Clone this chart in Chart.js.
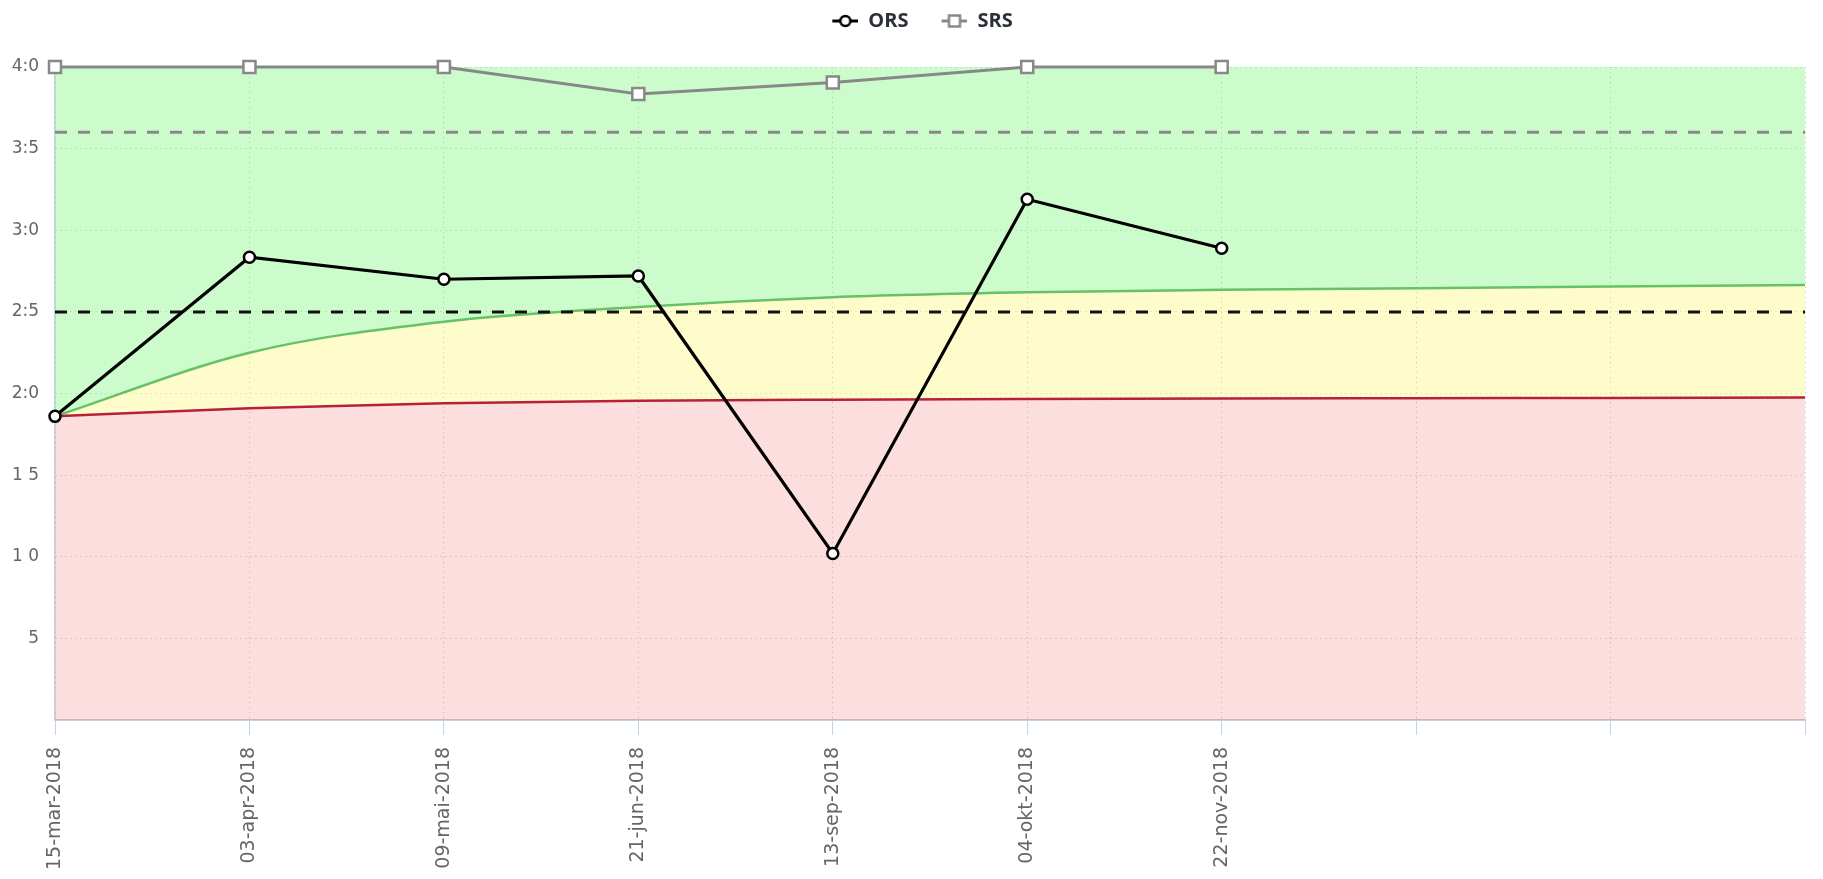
<!DOCTYPE html>
<html><head><meta charset="utf-8">
<script src="https://cdn.jsdelivr.net/npm/chart.js@4.4.0/dist/chart.umd.min.js"></script>
<style>html,body{margin:0;padding:0;background:#fff;overflow:hidden}</style>
</head><body>
<canvas id="c" width="1823" height="879"></canvas>
<script>
const categories = ["15-mar-2018","03-apr-2018","09-mai-2018","21-jun-2018","13-sep-2018","04-okt-2018","22-nov-2018","","",""];
const orsValues = [18.6, 28.35, 27.0, 27.2, 10.2, 31.9, 28.9, null, null, null];
const srsValues = [40, 40, 40, 38.35, 39.05, 40, 40, null, null, null];
const greenBoundary = [18.6, 22.5, 24.4, 25.3, 25.9, 26.2, 26.35, 26.45, 26.55, 26.65];
const redBoundary = [18.6, 19.1, 19.4, 19.55, 19.62, 19.66, 19.69, 19.71, 19.73, 19.75];
const topBoundary = [40, 40, 40, 40, 40, 40, 40, 40, 40, 40];
const orsCutoff = [25, 25, 25, 25, 25, 25, 25, 25, 25, 25];
const srsCutoff = [36, 36, 36, 36, 36, 36, 36, 36, 36, 36];
const yTickLabels = ["", "5", "1 0", "1 5", "2:0", "2:5", "3:0", "3:5", "4:0"];

function legendIcon(kind) {
  const c = document.createElement('canvas');
  c.width = 48; c.height = 16;
  const g = c.getContext('2d');
  const x0 = 22, x1 = 48, cy = 8;
  g.lineWidth = 3;
  g.strokeStyle = kind === 'ors' ? '#000' : '#888';
  g.beginPath(); g.moveTo(x0, cy); g.lineTo(x1, cy); g.stroke();
  g.fillStyle = '#fff';
  g.lineWidth = 2.5;
  const cx = (x0 + x1) / 2;
  if (kind === 'ors') {
    g.beginPath(); g.arc(cx, cy, 5, 0, Math.PI * 2); g.fill(); g.stroke();
  } else {
    g.beginPath(); g.rect(cx - 5.5, cy - 5.5, 11, 11); g.fill(); g.stroke();
  }
  return c;
}
const orsIcon = legendIcon('ors');
const srsIcon = legendIcon('srs');

const legendSpacer = {
  id: 'legendSpacer',
  beforeInit(chart) {
    const origFit = chart.legend.fit;
    chart.legend.fit = function () {
      origFit.call(this);
      this.height += 26;
    };
  }
};

Chart.defaults.font.family = "'DejaVu Sans', Verdana, sans-serif";
Chart.defaults.color = '#666';

new Chart(document.getElementById('c'), {
  type: 'line',
  plugins: [legendSpacer],
  data: {
    labels: categories,
    datasets: [
      { label: 'ORS', data: orsValues, borderColor: '#000', borderWidth: 3.2, tension: 0, clip: false,
        pointRadius: 5.5, pointBorderWidth: 2.5, pointBackgroundColor: '#fff', pointBorderColor: '#000',
        pointStyle: 'circle', fill: false, legendIcon: orsIcon },
      { label: 'SRS', data: srsValues, borderColor: '#888', borderWidth: 3, tension: 0, clip: false,
        pointRadius: 8.5, pointBorderWidth: 2.5, pointBackgroundColor: '#fff', pointBorderColor: '#888',
        pointStyle: 'rect', fill: false, legendIcon: srsIcon },
      { label: 'ORS cutoff', data: orsCutoff, borderColor: '#111', borderWidth: 3, borderDash: [12, 11],
        pointRadius: 0, fill: false },
      { label: 'SRS cutoff', data: srsCutoff, borderColor: '#888', borderWidth: 3, borderDash: [12, 11],
        pointRadius: 0, fill: false },
      { label: 'red', data: redBoundary, borderColor: '#b8203a', borderWidth: 2.5, pointRadius: 0,
        cubicInterpolationMode: 'monotone', fill: 'origin', backgroundColor: 'rgba(240,0,10,0.13)' },
      { label: 'green', data: greenBoundary, borderColor: '#66c266', borderWidth: 2.5, pointRadius: 0,
        cubicInterpolationMode: 'monotone', fill: '-1', backgroundColor: 'rgba(255,240,0,0.2)' },
      { label: 'top', data: topBoundary, borderWidth: 0, borderColor: 'rgba(0,0,0,0)', pointRadius: 0,
        fill: '-1', backgroundColor: 'rgba(0,240,0,0.2)' }
    ]
  },
  options: {
    responsive: false,
    animation: false,
    devicePixelRatio: 1,
    layout: { padding: { top: 0, right: 0, bottom: 0, left: 0 } },
    plugins: {
      tooltip: { enabled: false },
      legend: {
        position: 'top',
        labels: {
          usePointStyle: true,
          pointStyleWidth: 48,
          padding: 11,
          color: '#2b303a',
          font: { family: "'Open Sans', 'DejaVu Sans', sans-serif", size: 20, weight: 'bold' },
          filter: (item) => item.datasetIndex < 2,
          generateLabels: (chart) => chart.data.datasets.slice(0, 2).map((ds, i) => ({
            text: ds.label, datasetIndex: i, pointStyle: ds.legendIcon,
            fillStyle: '#fff', strokeStyle: ds.borderColor, lineWidth: 0, hidden: false, fontColor: '#2b303a'
          }))
        }
      }
    },
    scales: {
      x: {
        offset: false,
        afterFit: (s) => { s.height = 159; s.paddingRight = 18; s.paddingLeft = 0; },
        grid: { display: true, color: 'rgba(0,0,0,0.22)', drawTicks: true, tickLength: 15,
                tickColor: '#c4d2e2', tickWidth: 1, tickBorderDash: [] },
        border: { display: true, color: '#c4d2e2', width: 2, dash: [1, 4] },
        ticks: { autoSkip: false, maxRotation: 90, minRotation: 90, padding: 12,
                 font: { size: 19 }, color: '#666' }
      },
      y: {
        min: 0, max: 40,
        afterFit: (s) => { s.width = 55; },
        grid: { display: true, color: 'rgba(0,0,0,0.22)', drawTicks: false },
        border: { display: true, color: '#c4d2e2', width: 1.5, dash: [1, 4] },
        ticks: { stepSize: 5, padding: 16, font: { size: 17 }, color: '#666',
                 callback: (v, i) => yTickLabels[i] }
      }
    }
  }
});
</script>
</body></html>
